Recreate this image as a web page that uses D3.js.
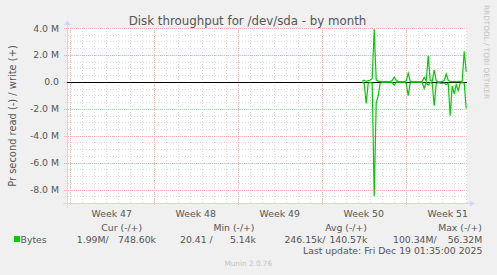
<!DOCTYPE html>
<html>
<head>
<meta charset="utf-8">
<script src="https://cdn.jsdelivr.net/npm/d3@7"></script>
<style>
	body { margin: 0; background: #f0f0f0; }
	svg { display: block; font-family: "DejaVu Sans", sans-serif; }
</style>
</head>
<body>
<div id="graficoContainer"></div>
<script>
// valores (en millones de bytes por segundo), cada 4 horas
const inicioDatos = "2025-12-10T09:00:00Z";
const pasoHoras = 4;
const escrituras = [0.05, 0.12, 0.03, 0.10, 0.12, 0.25, 3.90, 0.15, 0.05, 0.02,
	0.04, 0.00, 0.03, 0.00, 0.02, 0.10, 0.35, 0.12, 0.02, 0.00,
	0.02, 0.00, 0.08, 0.63, 0.05, 0.00, 0.02, 0.00, 0.01, 0.00,
	0.05, 0.33, 0.05, 1.94, 0.10, 0.05, 0.88, 0.08, 0.02, 0.00,
	0.03, 0.10, 0.58, 0.12, 0.03, 0.02, 0.04, 0.02, 0.03, 0.02,
	0.05, 2.27, 0.75];
const lecturas = [0.05, 0.10, 1.60, 0.10, 0.05, 0.10, 8.50, 1.55, 1.05, 0.10,
	0.05, 0.02, 0.00, 0.03, 0.00, 0.05, 0.25, 0.02, 0.00, 0.02,
	0.00, 0.02, 0.10, 1.03, 0.10, 0.02, 0.00, 0.02, 0.00, 0.02,
	0.05, 0.48, 0.05, 0.25, 0.05, 0.10, 1.78, 0.15, 0.05, 0.10,
	0.12, 0.08, 0.20, 0.10, 2.52, 0.30, 0.90, 0.20, 0.66, 0.10,
	0.05, 0.10, 1.99];

const ticksY = [4, 2, 0, -2, -4, -6, -8];
const semanas = ["Week 47", "Week 48", "Week 49", "Week 50", "Week 51"];

const titulosLeyenda = ["Cur (-/+)", "Min (-/+)", "Avg (-/+)", "Max (-/+)"];
const leyendaLectura = ["1.99M/", "20.41 /", "246.15k/", "100.34M/"];
const leyendaEscritura = ["748.60k", "5.14k", "140.57k", "56.32M"];

function crearGrafico() {
	const ancho = 497;
	const alto = 275;
	const marginLeft = 67;
	const marginTop = 28;
	const plotW = 400;
	const plotH = 175;

	const fin = new Date("2025-12-19T02:35:00Z");
	const inicio = new Date(fin.getTime() - plotW * 2 * 3600 * 1000); // 1px = 2 horas

	const xScale = d3.scaleUtc()
		.domain([inicio, fin])
		.range([marginLeft, marginLeft + plotW]);

	const yScale = d3.scaleLinear()
		.domain([-9, 4])
		.range([marginTop + plotH, marginTop]);

	const t0 = new Date(inicioDatos);
	const datos = escrituras.map((w, i) => ({
		t: d3.utcHour.offset(t0, i * pasoHoras),
		w: w,
		r: -lecturas[i]
	}));

	const svg = d3.select("#graficoContainer")
		.append("svg")
		.attr("width", ancho)
		.attr("height", alto);

	svg.append("rect")
		.attr("width", ancho).attr("height", alto)
		.attr("fill", "#f0f0f0");

	svg.append("rect")
		.attr("x", marginLeft).attr("y", marginTop)
		.attr("width", plotW).attr("height", plotH)
		.attr("fill", "#ffffff");

	const grid = svg.append("g").attr("shape-rendering", "crispEdges");
	const colorMenor = "#dadada";
	const colorMayor = "#f2b6b6";

	// grilla menor: cada dia / cada 0.5 M
	const dias = d3.utcDay.range(inicio, fin);
	grid.selectAll(".vmin")
		.data(dias)
		.enter()
		.append("line")
		.attr("x1", d => Math.round(xScale(d)) + 0.5)
		.attr("x2", d => Math.round(xScale(d)) + 0.5)
		.attr("y1", marginTop)
		.attr("y2", marginTop + plotH + 2)
		.attr("stroke", colorMenor)
		.attr("stroke-dasharray", "1,2");

	const medios = d3.range(-9, 4.01, 0.5);
	grid.selectAll(".hmin")
		.data(medios)
		.enter()
		.append("line")
		.attr("x1", marginLeft - 2)
		.attr("x2", marginLeft + plotW)
		.attr("y1", d => Math.round(yScale(d)) + 0.5)
		.attr("y2", d => Math.round(yScale(d)) + 0.5)
		.attr("stroke", colorMenor)
		.attr("stroke-dasharray", "1,2");

	// grilla mayor: domingos / cada 2 M
	const domingos = d3.utcSunday.range(inicio, fin);
	grid.selectAll(".vmaj")
		.data(domingos)
		.enter()
		.append("line")
		.attr("x1", d => Math.round(xScale(d)) + 0.5)
		.attr("x2", d => Math.round(xScale(d)) + 0.5)
		.attr("y1", marginTop)
		.attr("y2", marginTop + plotH + 3)
		.attr("stroke", colorMayor)
		.attr("stroke-dasharray", "1,1");

	grid.selectAll(".hmaj")
		.data(ticksY)
		.enter()
		.append("line")
		.attr("x1", marginLeft - 3)
		.attr("x2", marginLeft + plotW)
		.attr("y1", d => Math.round(yScale(d)) + 0.5)
		.attr("y2", d => Math.round(yScale(d)) + 0.5)
		.attr("stroke", colorMayor)
		.attr("stroke-dasharray", "1,1");

	// ejes con flechas
	const colorEje = "#cfd6f8";
	const yEje = Math.round(yScale(-9)) + 0.5;
	grid.append("line")
		.attr("x1", marginLeft - 4).attr("x2", marginLeft + plotW + 4)
		.attr("y1", yEje).attr("y2", yEje)
		.attr("stroke", colorEje);
	grid.append("line")
		.attr("x1", marginLeft + 0.5).attr("x2", marginLeft + 0.5)
		.attr("y1", yEje + 4).attr("y2", marginTop - 4)
		.attr("stroke", colorEje);
	svg.append("path")
		.attr("d", `M${marginLeft + plotW + 3},${yEje - 3}L${marginLeft + plotW + 8},${yEje}L${marginLeft + plotW + 3},${yEje + 3}Z`)
		.attr("fill", colorEje);
	svg.append("path")
		.attr("d", `M${marginLeft + 0.5 - 3},${marginTop - 3}L${marginLeft + 0.5},${marginTop - 8}L${marginLeft + 0.5 + 3},${marginTop - 3}Z`)
		.attr("fill", colorEje);

	// linea del cero
	svg.append("line")
		.attr("x1", marginLeft).attr("x2", marginLeft + plotW)
		.attr("y1", Math.round(yScale(0)) + 0.5).attr("y2", Math.round(yScale(0)) + 0.5)
		.attr("stroke", "#000")
		.attr("shape-rendering", "crispEdges");

	// series: lectura en negativo, escritura en positivo
	const lineaW = d3.line().x(d => xScale(d.t)).y(d => yScale(d.w));
	const lineaR = d3.line().x(d => xScale(d.t)).y(d => yScale(d.r));

	svg.append("path")
		.datum(datos)
		.attr("d", lineaR)
		.attr("fill", "none")
		.attr("stroke", "#00cc00")
		.attr("stroke-width", 1.2);

	svg.append("path")
		.datum(datos)
		.attr("d", lineaW)
		.attr("fill", "none")
		.attr("stroke", "#00cc00")
		.attr("stroke-width", 1.2);

	// etiquetas del eje Y
	svg.selectAll(".ytick")
		.data(ticksY)
		.enter()
		.append("text")
		.attr("x", 59)
		.attr("y", d => yScale(d) + 3.5)
		.attr("text-anchor", "end")
		.attr("font-size", "9.3px")
		.attr("fill", "#555")
		.text(d => d === 0 ? "0.0" : d.toFixed(1) + " M");

	// etiquetas de semanas (centradas en la semana)
	svg.selectAll(".xtick")
		.data(domingos)
		.enter()
		.append("text")
		.attr("x", d => xScale(d3.utcHour.offset(d, 84)))
		.attr("y", 217)
		.attr("text-anchor", "middle")
		.attr("font-size", "9.3px")
		.attr("fill", "#555")
		.text((d, i) => semanas[i]);

	// titulo
	svg.append("text")
		.attr("x", 247.5).attr("y", 25)
		.attr("text-anchor", "middle")
		.attr("font-size", "11.8px")
		.attr("fill", "#555")
		.text("Disk throughput for /dev/sda - by month");

	svg.append("text")
		.attr("transform", "translate(16,116) rotate(-90)")
		.attr("text-anchor", "middle")
		.attr("font-size", "9.9px")
		.attr("fill", "#555")
		.text("Pr second read (-) / write (+)");

	svg.append("text")
		.attr("transform", "translate(484,5) rotate(90)")
		.attr("font-size", "7.3px")
		.attr("fill", "#c4c4c4")
		.text("RRDTOOL / TOBI OETIKER");

	// leyenda
	const xTitulos = [121.7, 234, 346, 460];
	const xLectura = [108.7, 212.7, 325.5, 436.7];
	const xEscritura = [156, 256, 367.3, 482.3];

	svg.selectAll(".leyTit")
		.data(titulosLeyenda)
		.enter()
		.append("text")
		.attr("x", (d, i) => xTitulos[i])
		.attr("y", 230.5)
		.attr("text-anchor", "middle")
		.attr("font-size", "9.3px")
		.attr("fill", "#555")
		.text(d => d);

	svg.append("rect")
		.attr("x", 14).attr("y", 236).attr("width", 6).attr("height", 6)
		.attr("fill", "#00cc00");
	svg.append("text")
		.attr("x", 20.5).attr("y", 242.5)
		.attr("font-size", "9.3px")
		.attr("fill", "#555")
		.text("Bytes");

	svg.selectAll(".leyR")
		.data(leyendaLectura)
		.enter()
		.append("text")
		.attr("x", (d, i) => xLectura[i])
		.attr("y", 242.5)
		.attr("text-anchor", "end")
		.attr("font-size", "9.3px")
		.attr("fill", "#555")
		.text(d => d);

	svg.selectAll(".leyW")
		.data(leyendaEscritura)
		.enter()
		.append("text")
		.attr("x", (d, i) => xEscritura[i])
		.attr("y", 242.5)
		.attr("text-anchor", "end")
		.attr("font-size", "9.3px")
		.attr("fill", "#555")
		.text(d => d);

	svg.append("text")
		.attr("x", 482.3).attr("y", 254)
		.attr("text-anchor", "end")
		.attr("font-size", "9.3px")
		.attr("fill", "#555")
		.text("Last update: Fri Dec 19 01:35:00 2025");

	svg.append("text")
		.attr("x", 248.3).attr("y", 266)
		.attr("text-anchor", "middle")
		.attr("font-size", "7.3px")
		.attr("fill", "#c4c4c4")
		.text("Munin 2.0.76");
}

crearGrafico();
</script>
</body>
</html>
